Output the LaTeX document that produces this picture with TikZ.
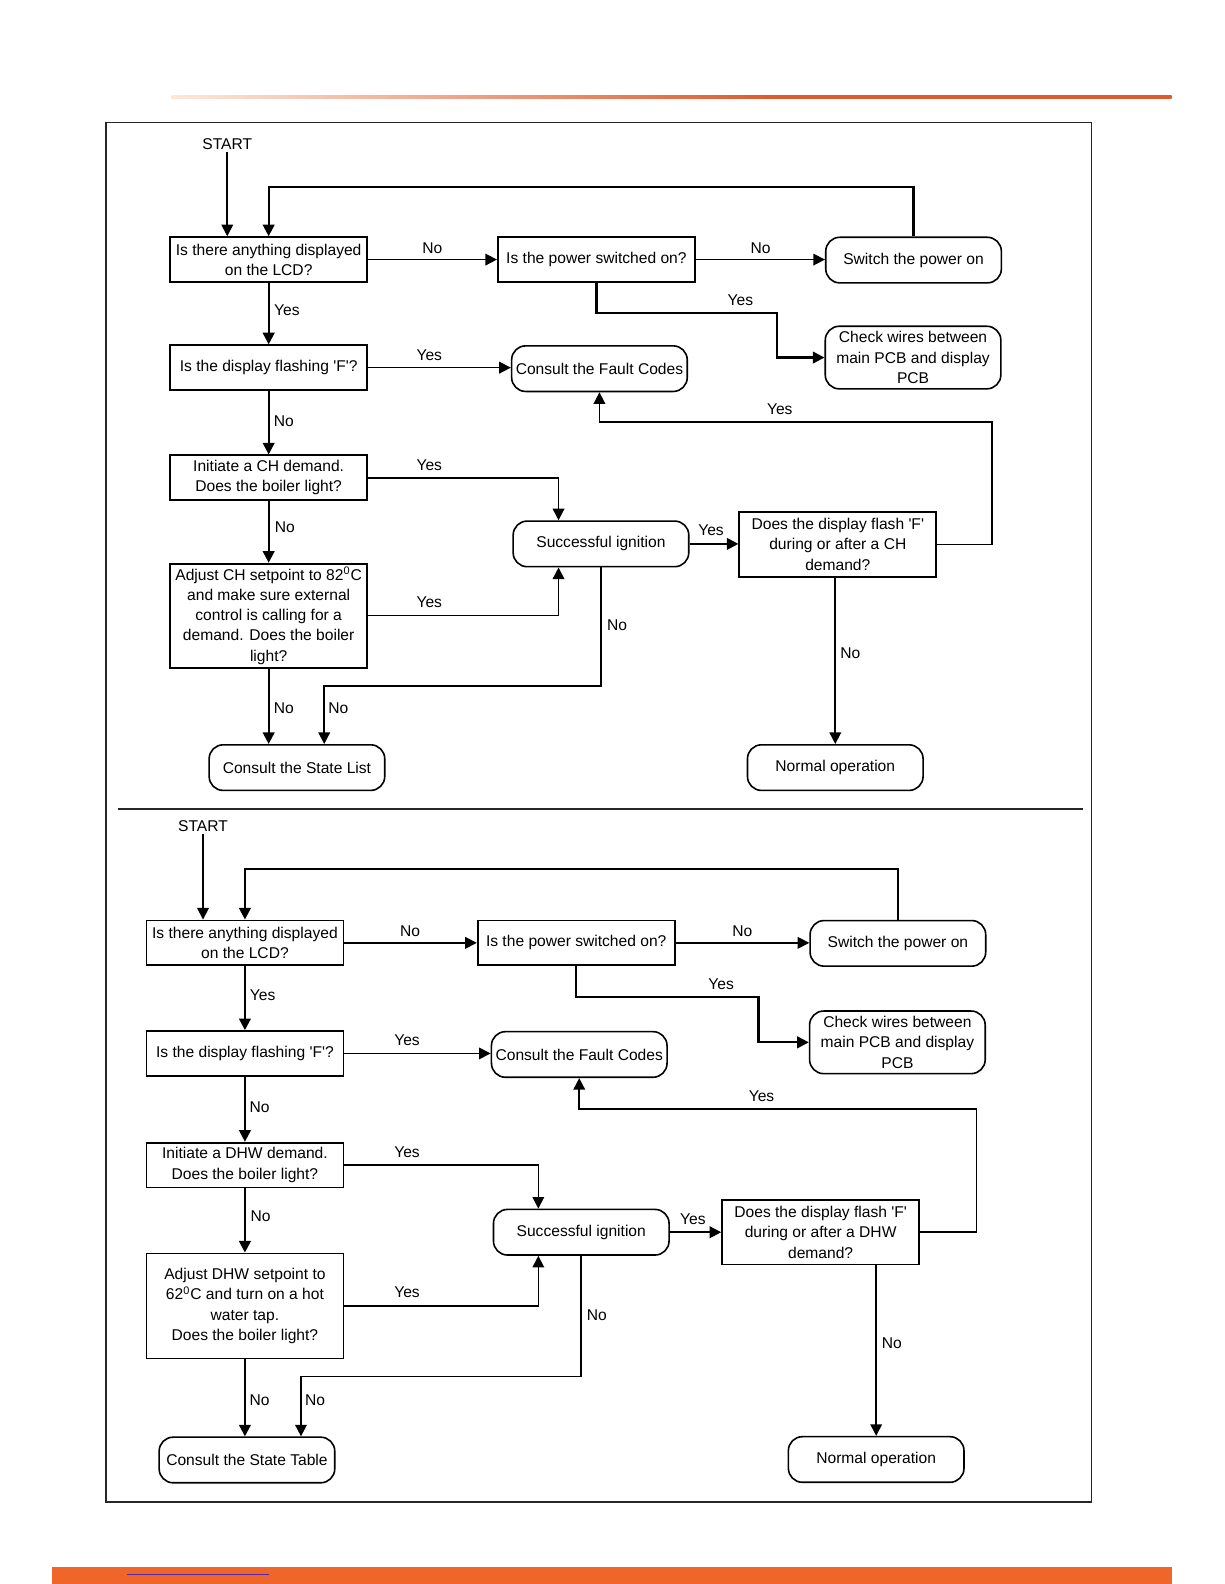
\documentclass[tikz,border=0pt]{standalone}
\usepackage{fontspec}
\setmainfont{Liberation Sans}
\usetikzlibrary{arrows.meta,positioning}
\definecolor{lineorange}{RGB}{222,90,46}
\definecolor{palepeach}{RGB}{252,232,218}
\definecolor{barorange}{RGB}{240,101,42}
\definecolor{linkpurple}{RGB}{88,40,165}
\pgfdeclarehorizontalshading{orangefade}{100bp}{color(0bp)=(palepeach); color(25bp)=(palepeach); color(55bp)=(lineorange); color(100bp)=(lineorange)}

\begin{document}
\begin{tikzpicture}[x=0.505pt,y=-0.505pt]
                \tikzstyle{every node}+=[font=\fontsize{7.8}{10.1}\selectfont]
                \tikzstyle{qbox}=[draw=black, line width=0.9pt, rectangle, align=center, inner sep=0pt, minimum width=98.5pt, minimum height=22.4pt]
                \tikzstyle{endbox}=[draw=black, line width=0.8pt, rounded corners=7pt, align=center, inner sep=0pt, minimum width=87.8pt, minimum height=22.8pt]
                \tikzstyle{flow}=[black, line width=0.8pt, -{Triangle[length=5.8pt,width=5.8pt]}]
                \tikzstyle{mainflow}=[flow, line width=1.1pt]
                \tikzstyle{lbl}=[inner sep=1pt]
                \useasboundingbox (0,0) rectangle (1212,1568.3);
                % page decoration
                \shade [shading=orangefade] (170,94.5) rectangle (1160,97.5);
                \fill [barorange] (51.5,1551.5) rectangle (1160,1568.3);
                \draw [linkpurple, line width=0.8pt] (126,1559) -- (266,1559);
                \draw [black!85, line width=0.65pt] (105,121) rectangle (1081,1487);
                \draw [black!85, line width=0.8pt] (117,801) -- (1072,801);
                % CH chart
                \node [lbl] (start1) at (225,143) {START};
                \node [qbox] (lcd) at (266,257) {Is there anything displayed\\on the LCD?};
                \node [qbox] (power) at (590.5,257) {Is the power switched on?};
                \node [endbox] (switchon) at (904.5,257.5) {Switch the power on};
                \node [endbox, minimum height=31.3pt] (wires) at (904,354) {Check wires between\\main PCB and display\\PCB};
                \node [qbox] (flash) at (266,364) {Is the display flashing \textquotesingle F\textquotesingle?};
                \node [endbox] (fault) at (593.5,365) {Consult the Fault Codes};
                \node [qbox] (chdemand) at (266,473) {Initiate a CH demand.\\Does the boiler light?};
                \node [endbox] (ignition) at (595,538.5) {Successful ignition};
                \node [qbox, minimum height=32.3pt] (flashch) at (829.5,539) {Does the display flash \textquotesingle F\textquotesingle\\during or after a CH\\demand?};
                \node [qbox, minimum height=52pt] (adjustch) at (266,609.5) {Adjust CH setpoint to 82\textsuperscript{0}C\\and make sure external\\control is calling for a\\demand. Does the boiler\\light?};
                \node [endbox] (statelist) at (294,760) {Consult the State List};
                \node [endbox] (normal) at (827,760) {Normal operation};
                \coordinate (loop1) at (266,185);
                \coordinate (wirebend) at (769,310);
                \coordinate (ignin) at (553,0);
                \coordinate (faultloop) at (982,418);
                \coordinate (statebend) at (321,679);
                \draw [flow] (start1.south) -- (start1.south |- lcd.north);
                \draw [mainflow] (switchon.north) |- (loop1) -- (lcd.north);
                \draw [flow] (lcd.east) -- (power.west);
                \draw [flow] (power.east) -- (power.east -| switchon.west);
                \draw [mainflow] (power.south) |- (wirebend) |- (wires.west);
                \draw [mainflow] (lcd.south) -- (flash.north);
                \draw [flow] (flash.east) -- (flash.east -| fault.west);
                \draw [mainflow] (flash.south) -- (chdemand.north);
                \draw [flow] (chdemand.east) -| (ignin |- ignition.north);
                \draw [mainflow] (chdemand.south) -- (adjustch.north);
                \draw [flow] (adjustch.east) -| (ignin |- ignition.south);
                \draw [mainflow] (ignition.east) -- (ignition.east -| flashch.west);
                \draw [flow] (flashch.east) -| (faultloop) -| (fault.south);
                \draw [flow] (normal.north |- flashch.south) -- (normal.north);
                \draw [mainflow] (adjustch.south) -- (adjustch.south |- statelist.north);
                \draw [flow] (ignition.south) |- (statebend) -- (statebend |- statelist.north);
                \node [lbl] (no1) at (428,246) {No};
                \node [lbl] (no2) at (753,246) {No};
                \node [lbl] (yes1) at (733,297) {Yes};
                \node [lbl] (yes2) at (284,307) {Yes};
                \node [lbl] (yes3) at (425,352) {Yes};
                \node [lbl] (no3) at (281,417) {No};
                \node [lbl] (yes4) at (425,461) {Yes};
                \node [lbl] (yes5) at (772,405) {Yes};
                \node [lbl] (no4) at (282,522) {No};
                \node [lbl] (yes6) at (704,525) {Yes};
                \node [lbl] (yes7) at (425,596) {Yes};
                \node [lbl] (no5) at (611,619) {No};
                \node [lbl] (no6) at (842,647) {No};
                \node [lbl] (no7) at (281,701) {No};
                \node [lbl] (no8) at (335,701) {No};
                % DHW chart
                \node [lbl] (start2) at (201,818) {START};
                \node [qbox] (lcd2) at (242.5,933.5) {Is there anything displayed\\on the LCD?};
                \node [qbox] (power2) at (570.5,933.5) {Is the power switched on?};
                \node [endbox] (switchon2) at (889,934) {Switch the power on};
                \node [endbox, minimum height=31.3pt] (wires2) at (888.5,1032) {Check wires between\\main PCB and display\\PCB};
                \node [qbox] (flash2) at (242.5,1043) {Is the display flashing \textquotesingle F\textquotesingle?};
                \node [endbox] (fault2) at (573.5,1044) {Consult the Fault Codes};
                \node [qbox] (dhwdemand) at (242.5,1153.5) {Initiate a DHW demand.\\Does the boiler light?};
                \node [endbox] (ignition2) at (575.5,1220) {Successful ignition};
                \node [qbox, minimum height=32.3pt] (flashdhw) at (812.5,1220) {Does the display flash \textquotesingle F\textquotesingle\\during or after a DHW\\demand?};
                \node [qbox, minimum height=52.5pt] (adjustdhw) at (242.5,1293) {Adjust DHW setpoint to\\62\textsuperscript{0}C and turn on a hot\\water tap.\\Does the boiler light?};
                \node [endbox] (statetable) at (244.5,1445.5) {Consult the State Table};
                \node [endbox] (normal2) at (867.5,1445) {Normal operation};
                \coordinate (loop2) at (242.5,860);
                \coordinate (wirebend2) at (751,987);
                \coordinate (ignin2) at (533,0);
                \coordinate (faultloop2) at (967,1098);
                \coordinate (statebend2) at (298,1363);
                \draw [flow] (start2.south) -- (start2.south |- lcd2.north);
                \draw [mainflow] (switchon2.north) |- (loop2) -- (lcd2.north);
                \draw [flow] (lcd2.east) -- (power2.west);
                \draw [flow] (power2.east) -- (power2.east -| switchon2.west);
                \draw [mainflow] (power2.south) |- (wirebend2) |- (wires2.west);
                \draw [mainflow] (lcd2.south) -- (flash2.north);
                \draw [flow] (flash2.east) -- (flash2.east -| fault2.west);
                \draw [mainflow] (flash2.south) -- (dhwdemand.north);
                \draw [flow] (dhwdemand.east) -| (ignin2 |- ignition2.north);
                \draw [mainflow] (dhwdemand.south) -- (adjustdhw.north);
                \draw [flow] (adjustdhw.east) -| (ignin2 |- ignition2.south);
                \draw [mainflow] (ignition2.east) -- (ignition2.east -| flashdhw.west);
                \draw [flow] (flashdhw.east) -| (faultloop2) -| (fault2.south);
                \draw [flow] (normal2.north |- flashdhw.south) -- (normal2.north);
                \draw [mainflow] (adjustdhw.south) -- (adjustdhw.south |- statetable.north);
                \draw [flow] (ignition2.south) |- (statebend2) -- (statebend2 |- statetable.north);
                \node [lbl] (no9) at (406,922) {No};
                \node [lbl] (no10) at (735,922) {No};
                \node [lbl] (yes8) at (714,974) {Yes};
                \node [lbl] (yes9) at (260,985) {Yes};
                \node [lbl] (yes10) at (403,1030) {Yes};
                \node [lbl] (yes11) at (754,1085) {Yes};
                \node [lbl] (no11) at (257,1096) {No};
                \node [lbl] (yes12) at (403,1141) {Yes};
                \node [lbl] (no12) at (258,1204) {No};
                \node [lbl] (yes13) at (686,1207) {Yes};
                \node [lbl] (yes14) at (403,1279) {Yes};
                \node [lbl] (no13) at (591,1302) {No};
                \node [lbl] (no14) at (883,1330) {No};
                \node [lbl] (no15) at (257,1386) {No};
                \node [lbl] (no16) at (312,1386) {No};
            \end{tikzpicture}
\end{document}
